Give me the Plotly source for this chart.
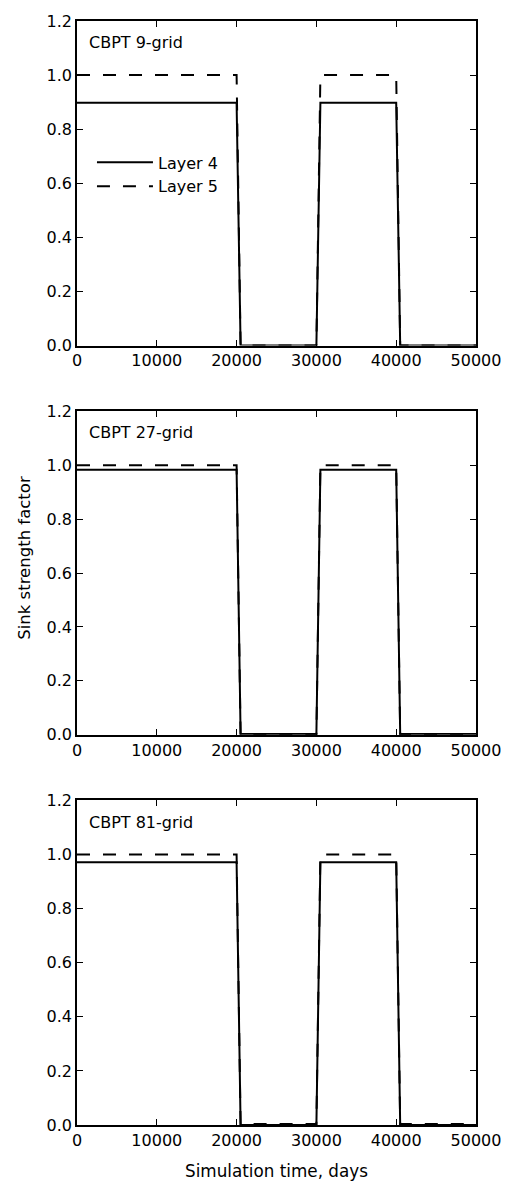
import plotly.graph_objects as go
from plotly.subplots import make_subplots

# ---- data ----
time_days = [0, 20000, 20500, 30000, 30500, 40000, 40500, 50000]

panel_labels = ["CBPT 9-grid", "CBPT 27-grid", "CBPT 81-grid"]

layer4_9grid = [0.898, 0.898, 0.0, 0.0, 0.898, 0.898, 0.0, 0.0]
layer5_9grid = [1.0, 1.0, 0.0, 0.0, 1.0, 1.0, 0.0, 0.0]

layer4_27grid = [0.983, 0.983, 0.003, 0.003, 0.983, 0.983, 0.003, 0.003]
layer5_27grid = [1.0, 1.0, 0.0, 0.0, 1.0, 1.0, 0.0, 0.0]

layer4_81grid = [0.972, 0.972, 0.0, 0.0, 0.972, 0.972, 0.0, 0.0]
layer5_81grid = [1.0, 1.0, 0.004, 0.004, 1.0, 1.0, 0.004, 0.004]

x_ticks = [0, 10000, 20000, 30000, 40000, 50000]
y_ticks = [0.0, 0.2, 0.4, 0.6, 0.8, 1.0, 1.2]

series = [
    (layer4_9grid, layer5_9grid),
    (layer4_27grid, layer5_27grid),
    (layer4_81grid, layer5_81grid),
]

FONT = "DejaVu Sans"
W, H = 513, 1182
ML, MR, MT, MB = 77, 36, 16, 57
plot_h = H - MT - MB
plot_w = W - ML - MR

def ydom(top_px, bot_px):
    return [(H - MB - bot_px) / plot_h, (H - MB - top_px) / plot_h]

domains = [ydom(16, 342), ydom(408, 733), ydom(799, 1125)]

fig = make_subplots(rows=3, cols=1)

for i, (l4, l5) in enumerate(series):
    r = i + 1
    fig.add_trace(go.Scatter(x=time_days, y=l4, mode="lines", name="Layer 4",
                             line=dict(color="black", width=2),
                             showlegend=(i == 0)), row=r, col=1)
    fig.add_trace(go.Scatter(x=time_days, y=l5, mode="lines", name="Layer 5",
                             line=dict(color="black", width=2, dash="13px,13px"),
                             showlegend=(i == 0)), row=r, col=1)

axis_common = dict(showline=True, linecolor="black", linewidth=1.5, mirror="ticks",
                   ticks="inside", ticklen=6, tickwidth=1.2, tickcolor="black",
                   showgrid=False, zeroline=False,
                   tickfont=dict(family=FONT, size=16, color="black"))

for i in range(3):
    xa = "xaxis" if i == 0 else f"xaxis{i+1}"
    ya = "yaxis" if i == 0 else f"yaxis{i+1}"
    fig.layout[xa].update(range=[0, 50000], tickvals=x_ticks,
                          ticktext=[str(v) for v in x_ticks], domain=[0, 1], **axis_common)
    fig.layout[ya].update(range=[0, 1.2], tickvals=y_ticks,
                          ticktext=[f"{v:.1f}" for v in y_ticks], domain=domains[i], **axis_common)
    xref = "x domain" if i == 0 else f"x{i+1} domain"
    yref = "y domain" if i == 0 else f"y{i+1} domain"
    fig.add_annotation(text=panel_labels[i], xref=xref, yref=yref, x=0.025, y=0.933,
                       xanchor="left", yanchor="middle", showarrow=False,
                       font=dict(family=FONT, size=16, color="black"))

fig.add_annotation(text="Sink strength factor", xref="paper", yref="paper",
                   x=(24 - ML) / plot_w, y=(H - MB - 555) / plot_h, textangle=-90,
                   xanchor="center", yanchor="middle", showarrow=False,
                   font=dict(family=FONT, size=16.5, color="black"))
fig.add_annotation(text="Simulation time, days", xref="paper", yref="paper",
                   x=0.5, y=(H - MB - 1171) / plot_h,
                   xanchor="center", yanchor="middle", showarrow=False,
                   font=dict(family=FONT, size=16.8, color="black"))

fig.update_layout(
    width=W, height=H,
    margin=dict(l=ML, r=MR, t=MT, b=MB),
    paper_bgcolor="white", plot_bgcolor="white",
    showlegend=True,
    legend=dict(x=(92 - ML) / plot_w, y=(H - MB - 141) / plot_h, xanchor="left", yanchor="top",
                bgcolor="rgba(0,0,0,0)", borderwidth=0, itemwidth=56, tracegroupgap=0,
                font=dict(family=FONT, size=16, color="black")),
    font=dict(family=FONT, color="black"),
)

fig.write_html("out.html")
